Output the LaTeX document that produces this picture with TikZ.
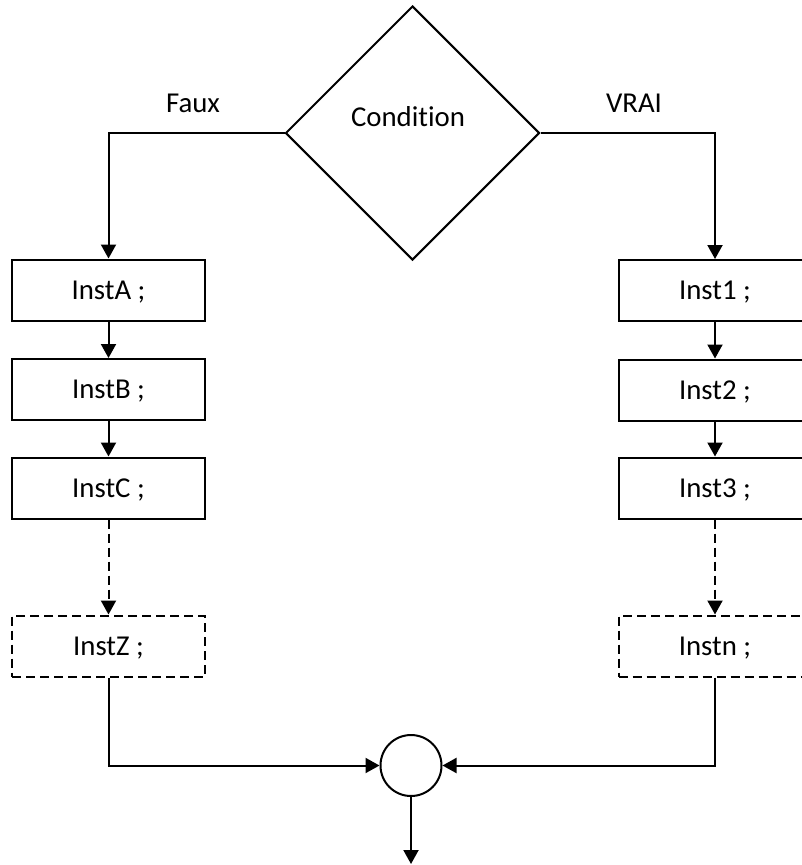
\documentclass[tikz,border=0pt]{standalone}
\usepackage{fontspec}
\setmainfont{Carlito}[Ligatures={NoCommon}]
\usetikzlibrary{shapes.geometric,arrows.meta}
\begin{document}
\begin{tikzpicture}[x=1pt,y=-1pt,
  every node/.style={font=\fontsize{28.8}{34}\selectfont, text height=18.5pt, text depth=0pt, inner sep=0pt},
  line/.style={line width=2pt},
  arr/.style={line, -{Triangle[length=14pt,width=15pt]}},
  instbox/.style={draw, line width=2pt, minimum width=193pt, minimum height=61pt},
  dbox/.style={instbox, dash pattern=on 9pt off 5pt},
  dashline/.style={arr, dash pattern=on 9pt off 5pt}]
\clip (0,0) rectangle (802,865);
\useasboundingbox (0,0) rectangle (802,865);
\node[draw, line, shape=diamond, minimum width=254pt, minimum height=254pt, aspect=1] (d) at (412.5,133) {};
\node (cond) at (408,117) {Condition};
\node (faux) at (193,103) {Faux};
\node (vrai) at (634,103) {VRAI};
% left column
\node[instbox] (a) at (108.5,290) {InstA ;};
\node[instbox] (b) at (108.5,389.5) {InstB ;};
\node[instbox] (c) at (108.5,488) {InstC ;};
\node[dbox] (z) at (108.5,646) {InstZ ;};
% right column
\node[instbox] (i1) at (715,290.5) {Inst1 ;};
\node[instbox] (i2) at (715,390) {Inst2 ;};
\node[instbox] (i3) at (715,488) {Inst3 ;};
\node[dbox] (in) at (715,646) {Instn ;};
% junction
\node[draw, line, circle, minimum size=61pt] (j) at (411,765.5) {};
\coordinate (out) at (411,864);
% connectors
\draw[arr] (d.west) -| (a.north);
\draw[arr] (d.east) -| (i1.north);
\draw[arr] (a) -- (b);
\draw[arr] (b) -- (c);
\draw[dashline] (c) -- (z);
\draw[arr] (i1) -- (i2);
\draw[arr] (i2) -- (i3);
\draw[dashline] (i3) -- (in);
\draw[arr] (z.south) |- (j.west);
\draw[arr] (in.south) |- (j.east);
\draw[arr] (j.south) -- (out);
\end{tikzpicture}
\end{document}
